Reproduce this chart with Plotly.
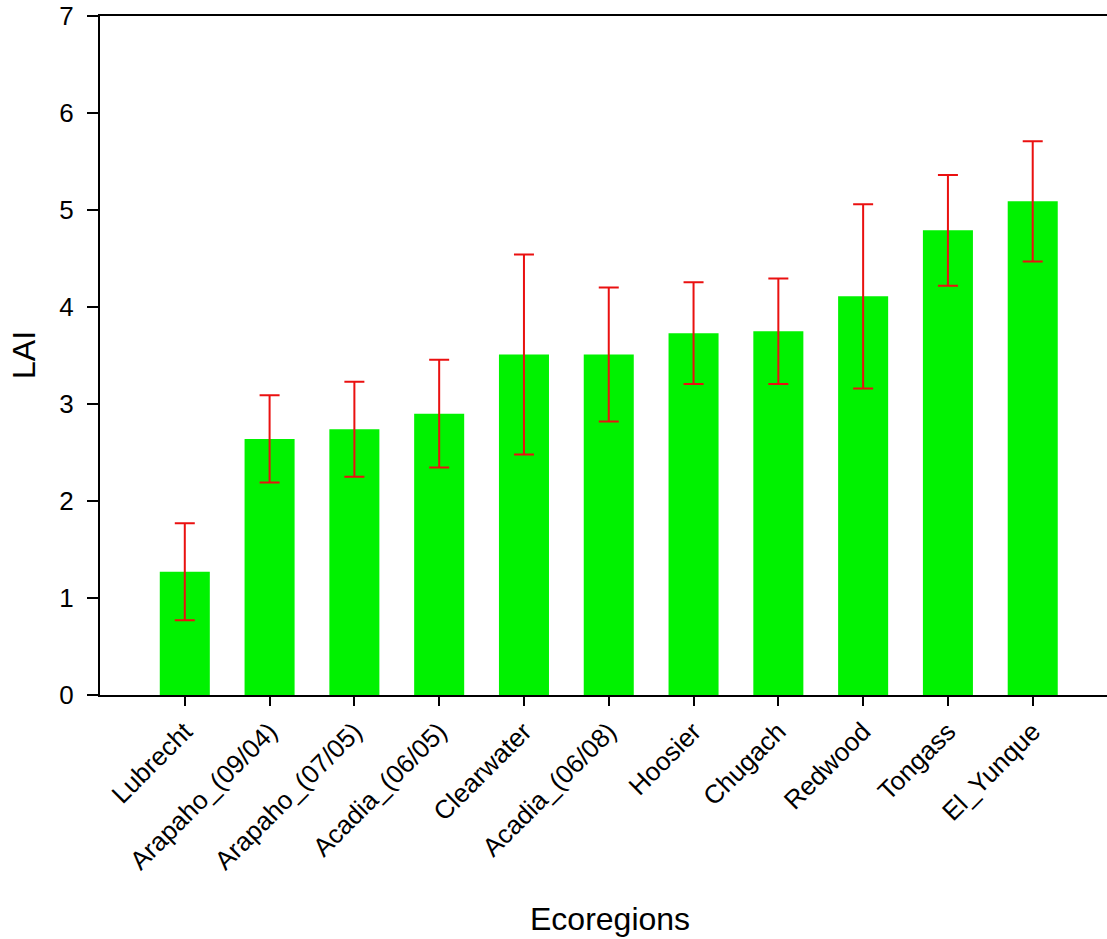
import plotly.graph_objects as go

# Mean leaf area index per ecoregion with its standard deviation
ecoregions = ["Lubrecht", "Arapaho_(09/04)", "Arapaho_(07/05)", "Acadia_(06/05)",
              "Clearwater", "Acadia_(06/08)", "Hoosier", "Chugach", "Redwood",
              "Tongass", "El_Yunque"]
lai_mean = [1.27, 2.64, 2.74, 2.90, 3.51, 3.51, 3.73, 3.75, 4.11, 4.79, 5.09]
lai_sd = [0.50, 0.45, 0.49, 0.555, 1.03, 0.69, 0.525, 0.545, 0.95, 0.57, 0.62]

FONT = "Liberation Sans, Arial, sans-serif"

fig = go.Figure(
    go.Bar(
        x=ecoregions,
        y=lai_mean,
        width=0.59,
        marker=dict(color="#00f200", line=dict(width=0)),
        error_y=dict(type="data", array=lai_sd, symmetric=True,
                     color="#ea1010", thickness=2, width=10),
    )
)

fig.update_layout(
    width=1107, height=939,
    margin=dict(l=100, r=0, t=16, b=244),
    paper_bgcolor="white", plot_bgcolor="white",
    showlegend=False,
    font=dict(family=FONT, color="black"),
    annotations=[
        dict(text="Ecoregions", xref="paper", yref="paper", x=0.5065, y=-0.33,
             showarrow=False, font=dict(size=32, family=FONT, color="black"),
             xanchor="center", yanchor="middle"),
        dict(text="LAI", xref="paper", yref="paper", x=-0.0755, y=0.5007,
             showarrow=False, textangle=-90,
             font=dict(size=32, family=FONT, color="black"),
             xanchor="center", yanchor="middle"),
    ],
)

fig.update_xaxes(
    range=[-1.0, 10.876],
    showline=True, linecolor="black", linewidth=2, mirror=True,
    ticks="outside", ticklen=9, tickwidth=2, tickcolor="black",
    tickangle=-45, tickfont=dict(size=26, family=FONT, color="black"),
    showgrid=False, zeroline=False,
)
fig.update_yaxes(
    range=[0, 7], dtick=1,
    showline=True, linecolor="black", linewidth=2,
    ticks="outside", ticklen=11, tickwidth=2, tickcolor="black",
    ticklabelstandoff=8,
    tickfont=dict(size=26, family=FONT, color="black"),
    showgrid=False, zeroline=False,
)

fig.write_html("out.html")
